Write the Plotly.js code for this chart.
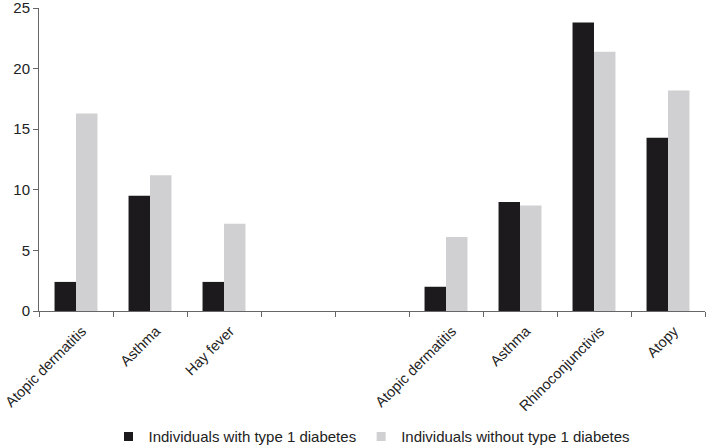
<!DOCTYPE html>
<html>
<head>
<meta charset="utf-8">
<script src="https://cdn.plot.ly/plotly-3.0.1.min.js"></script>
<style>html,body{margin:0;padding:0;background:#fff;}#chart{width:706px;height:446px;}</style>
</head>
<body>
<div id="chart"></div>
<script>
const categories = ["Atopic dermatitis", "Asthma", "Hay fever", "", "", "Atopic dermatitis", "Asthma", "Rhinoconjunctivis", "Atopy"];
const withT1D = [2.4, 9.5, 2.4, null, null, 2.0, 9.0, 23.8, 14.3];
const withoutT1D = [16.3, 11.2, 7.2, null, null, 6.1, 8.7, 21.4, 18.2];
const seriesNames = ["Individuals with type 1 diabetes", "Individuals without type 1 diabetes"];
const seriesColors = ["#1c1a1c", "#d0d0d2"];
const yTicks = [0, 5, 10, 15, 20, 25];

const idx = categories.map((c, i) => i);

const traces = [
  {type: 'bar', x: idx, y: withT1D, marker: {color: seriesColors[0]}, name: seriesNames[0], showlegend: false},
  {type: 'bar', x: idx, y: withoutT1D, marker: {color: seriesColors[1]}, name: seriesNames[1], showlegend: false},
  {type: 'scatter', mode: 'markers', x: [null], y: [null], name: seriesNames[0], marker: {symbol: 'square', size: 9, color: seriesColors[0]}},
  {type: 'scatter', mode: 'markers', x: [null], y: [null], name: seriesNames[1], marker: {symbol: 'square', size: 9, color: seriesColors[1]}}
];

const layout = {
  width: 706, height: 446,
  margin: {l: 39, r: 1, t: 8, b: 135, autoexpand: false},
  paper_bgcolor: '#fff', plot_bgcolor: '#fff',
  font: {family: 'Liberation Sans, Arial, sans-serif', size: 15, color: '#222'},
  barmode: 'group',
  bargap: 0.42,
  bargroupgap: 0,
  showlegend: true,
  legend: {orientation: 'h', x: 0.5, xanchor: 'center', y: -0.415, yanchor: 'middle', font: {size: 15, color: '#222'}, itemwidth: 30},
  xaxis: {
    type: 'linear', range: [-0.5, 8.5], tickmode: 'array', tickvals: idx, ticktext: categories,
    tickangle: -45, ticks: '', showgrid: false, zeroline: false, automargin: false, ticklabeloverflow: 'allow',
    ticklabelstandoff: 5, ticklabelshift: 6,
    showline: true, linecolor: '#666', linewidth: 1,
    minor: {tickmode: 'linear', tick0: 0.5, dtick: 1, ticks: 'outside', ticklen: 5, tickcolor: '#666', showgrid: false},
    fixedrange: true, tickfont: {size: 14.5}
  },
  yaxis: {
    range: [0, 25], tickmode: 'array', tickvals: yTicks, ticks: 'outside', ticklen: 5, tickcolor: '#666',
    showgrid: false, zeroline: false, showline: true, linecolor: '#666', linewidth: 1, automargin: false, ticklabeloverflow: 'allow',
    tickfont: {size: 15}, fixedrange: true
  }
};

Plotly.newPlot('chart', traces, layout, {displayModeBar: false, staticPlot: true});
</script>
</body>
</html>
